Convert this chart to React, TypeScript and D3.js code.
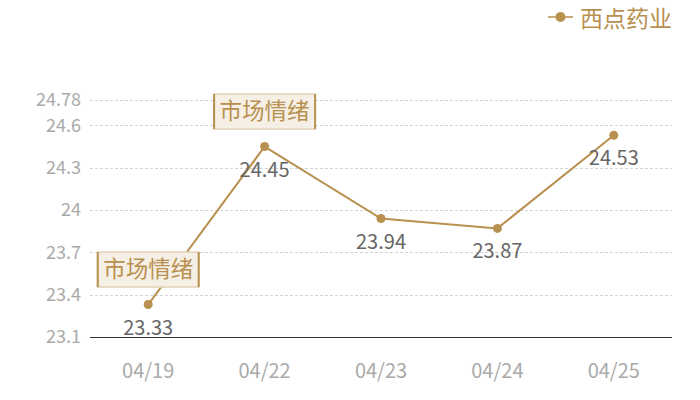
import React, { useEffect, useRef } from "react";
import * as d3 from "d3";

const dates = ["04/19", "04/22", "04/23", "04/24", "04/25"];
const prices = [23.33, 24.45, 23.94, 23.87, 24.53];
const yTicks = [23.1, 23.4, 23.7, 24, 24.3, 24.6, 24.78];
const markIdx = [0, 1];
const markText = "市场情绪";
const seriesName = "西点药业";

const GOLD = "#b8904f";
const FONT = "'Noto Sans CJK SC', 'Noto Sans', sans-serif";

const App: React.FC = () => {
  const svgRef = useRef<SVGSVGElement>(null);

  useEffect(() => {
    if (!svgRef.current) return;
    const svg = d3.select(svgRef.current);
    svg.selectAll("*").remove();

    const left = 90;
    const right = 672;
    const top = 100;
    const bottom = 337;

    const x = d3.scalePoint().domain(dates).range([left, right]).padding(0.5);
    const y = d3.scaleLinear().domain([23.1, 24.78]).range([bottom, top]);

    // grid
    svg
      .append("g")
      .selectAll("line")
      .data(yTicks.slice(1))
      .join("line")
      .attr("x1", left)
      .attr("x2", right)
      .attr("y1", (d) => Math.round(y(d)) + 0.5)
      .attr("y2", (d) => Math.round(y(d)) + 0.5)
      .attr("stroke", "#d4d4d4")
      .attr("stroke-dasharray", "3,2");

    // y labels
    svg
      .append("g")
      .selectAll("text")
      .data(yTicks)
      .join("text")
      .attr("x", 81)
      .attr("y", (d) => y(d))
      .attr("dy", "0.35em")
      .attr("text-anchor", "end")
      .attr("fill", "#aaaaaa")
      .attr("font-size", 18)
      .attr("font-family", FONT)
      .text((d) => String(d));

    // x axis line
    svg
      .append("line")
      .attr("x1", left)
      .attr("x2", right)
      .attr("y1", bottom + 0.5)
      .attr("y2", bottom + 0.5)
      .attr("stroke", "#333")
      .attr("stroke-width", 1);

    svg
      .append("g")
      .selectAll("text")
      .data(dates)
      .join("text")
      .attr("x", (d) => x(d)!)
      .attr("y", 371)
      .attr("dy", "0.35em")
      .attr("text-anchor", "middle")
      .attr("fill", "#aaaaaa")
      .attr("font-size", 20)
      .attr("font-family", FONT)
      .text((d) => d);

    const line = d3
      .line<number>()
      .x((_, i) => x(dates[i])!)
      .y((d) => y(d));

    svg
      .append("path")
      .datum(prices)
      .attr("fill", "none")
      .attr("stroke", GOLD)
      .attr("stroke-width", 2)
      .attr("d", line);

    svg
      .append("g")
      .selectAll("circle")
      .data(prices)
      .join("circle")
      .attr("cx", (_, i) => x(dates[i])!)
      .attr("cy", (d) => y(d))
      .attr("r", 4.5)
      .attr("fill", GOLD);

    svg
      .append("g")
      .selectAll("text")
      .data(prices)
      .join("text")
      .attr("x", (_, i) => x(dates[i])!)
      .attr("y", (d) => y(d) + 23)
      .attr("dy", "0.35em")
      .attr("text-anchor", "middle")
      .attr("fill", "#666666")
      .attr("font-size", 20)
      .attr("font-family", FONT)
      .text((d) => d.toFixed(2));

    // annotations
    const marks = svg
      .append("g")
      .selectAll("g")
      .data(markIdx)
      .join("g")
      .attr(
        "transform",
        (i) => `translate(${x(dates[i])},${y(prices[i]) - 35})`
      );
    const bw = 101;
    const bh = 35;
    marks
      .append("rect")
      .attr("x", -bw / 2)
      .attr("y", -bh / 2)
      .attr("width", bw)
      .attr("height", bh)
      .attr("fill", "#f6efe5")
      .attr("stroke", "#e2d2b8")
      .attr("stroke-width", 1.5);
    marks
      .selectAll("line")
      .data([-bw / 2, bw / 2])
      .join("line")
      .attr("x1", (d) => d)
      .attr("x2", (d) => d)
      .attr("y1", -bh / 2)
      .attr("y2", bh / 2)
      .attr("stroke", GOLD)
      .attr("stroke-width", 2);
    marks
      .append("text")
      .attr("text-anchor", "middle")
      .attr("dy", "0.35em")
      .attr("fill", GOLD)
      .attr("font-size", 22.5)
      .attr("font-family", FONT)
      .text(markText);

    // legend
    const lg = svg.append("g").attr("transform", "translate(548,17)");
    lg.append("line")
      .attr("x1", 0)
      .attr("x2", 25)
      .attr("stroke", GOLD)
      .attr("stroke-width", 1.5);
    lg.append("circle").attr("cx", 12.5).attr("r", 5).attr("fill", GOLD);
    lg.append("text")
      .attr("x", 32)
      .attr("y", 1.5)
      .attr("dy", "0.35em")
      .attr("fill", GOLD)
      .attr("font-size", 23)
      .attr("font-family", FONT)
      .text(seriesName);
  }, []);

  return (
    <svg
      ref={svgRef}
      width={700}
      height={400}
      style={{ position: "absolute", left: 0, top: 0, background: "#fff" }}
    />
  );
};

export default App;
